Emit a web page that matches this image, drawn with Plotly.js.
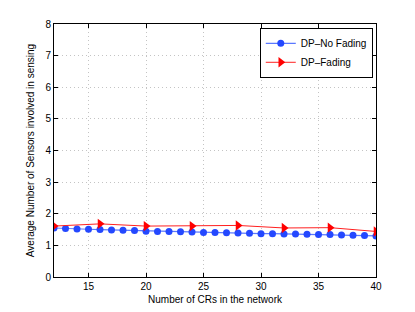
<!DOCTYPE html>
<html><head><meta charset="utf-8">
<script src="https://cdn.plot.ly/plotly-3.0.1.min.js"></script>
<style>html,body{margin:0;padding:0;background:#fff}#chart{width:415px;height:312px}</style>
</head><body><div id="chart"></div>
<script>
const xNoFading = [12,13,14,15,16,17,18,19,20,21,22,23,24,25,26,27,28,29,30,31,32,33,34,35,36,37,38,39,40];
const yNoFading = [1.55,1.53,1.52,1.51,1.50,1.49,1.48,1.47,1.45,1.44,1.44,1.43,1.42,1.41,1.41,1.40,1.39,1.38,1.37,1.37,1.36,1.36,1.35,1.34,1.34,1.33,1.32,1.31,1.30];
const xFading = [12,16,20,24,28,32,36,40];
const yFading = [1.61,1.68,1.61,1.61,1.63,1.55,1.56,1.44];
const xTicks = [15,20,25,30,35,40];
const yTicks = [0,1,2,3,4,5,6,7,8];

const font = {family: 'Liberation Sans, Arial, sans-serif', size: 10, color: '#000'};
const traces = [
  {x: xNoFading, y: yNoFading, name: 'DP\u2013No Fading', mode: 'lines+markers',
   line: {color: '#5a78ff', width: 1.2}, marker: {symbol: 'circle', size: 7, color: '#2448ff'}},
  {x: xFading, y: yFading, name: 'DP\u2013Fading', mode: 'lines+markers',
   line: {color: '#ff2020', width: 1}, marker: {symbol: 'triangle-right', size: 9, color: '#ff0000'}}
];
const axisCommon = {showline: true, linecolor: '#000', linewidth: 1, mirror: 'ticks', ticks: 'inside', ticklen: 4,
  tickcolor: '#000', showgrid: true, gridcolor: '#c4c4c4', griddash: '1px,3px', gridwidth: 1, zeroline: false,
  tickfont: font};
const layout = {
  width: 415, height: 312,
  margin: {l: 54, r: 39, t: 24, b: 35},
  paper_bgcolor: '#fff', plot_bgcolor: '#fff',
  font: font,
  showlegend: true,
  legend: {x: 0.99, y: 0.985, xanchor: 'right', yanchor: 'top', bordercolor: '#000', borderwidth: 1,
    bgcolor: '#fff', font: font, tracegroupgap: 0, itemwidth: 30},
  xaxis: Object.assign({}, axisCommon, {range: [12, 40], tickvals: xTicks,
    title: {text: 'Number of CRs in the network', font: font, standoff: 4}}),
  yaxis: Object.assign({}, axisCommon, {range: [0, 8], tickvals: yTicks,
    title: {text: 'Average Number of Sensors involved in sensing', font: font, standoff: 8}})
};
Plotly.newPlot('chart', traces, layout, {displayModeBar: false, staticPlot: true});
</script></body></html>
